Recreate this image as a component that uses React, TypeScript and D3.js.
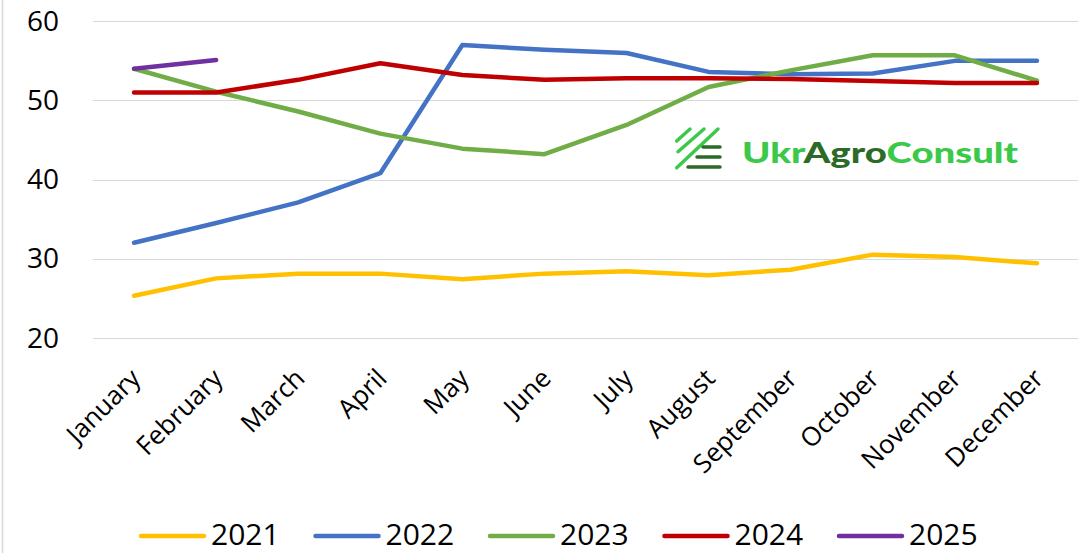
import React, { useEffect, useRef } from 'react';
import * as d3 from 'd3';

const months = [
  'January', 'February', 'March', 'April', 'May', 'June',
  'July', 'August', 'September', 'October', 'November', 'December',
];
const yTicks = [20, 30, 40, 50, 60];

const values2021 = [25.3, 27.5, 28.1, 28.1, 27.4, 28.1, 28.4, 27.9, 28.6, 30.5, 30.2, 29.4];
const values2022 = [32.0, 34.5, 37.1, 40.8, 57.0, 56.4, 56.0, 53.6, 53.3, 53.4, 55.0, 55.0];
const values2023 = [54.0, 51.1, 48.6, 45.8, 43.9, 43.2, 46.9, 51.7, 53.8, 55.7, 55.7, 52.5];
const values2024 = [51.0, 51.0, 52.6, 54.7, 53.2, 52.6, 52.8, 52.8, 52.7, 52.45, 52.2, 52.2];
const values2025 = [54.0, 55.1];

const seriesNames = ['2021', '2022', '2023', '2024', '2025'];
const seriesColors = ['#FFC000', '#4472C4', '#70AD47', '#C00000', '#7030A0'];

const App = () => {
  const svgRef = useRef<SVGSVGElement>(null);

  useEffect(() => {
    const height = 553;
    const svg = d3.select(svgRef.current);
    svg.selectAll('*').remove();

    const font = "'Open Sans', sans-serif";
    const allSeries = [values2021, values2022, values2023, values2024, values2025];

    // scales
    const x = d3.scaleBand().domain(months).range([93, 1078]);
    const cx = (m: string) => (x(m) as number) + x.bandwidth() / 2;
    const y = d3.scaleLinear().domain([20, 60]).range([337.7, 21.3]);

    // left frame line
    svg.append('line')
      .attr('x1', 2.5).attr('x2', 2.5).attr('y1', 0).attr('y2', height)
      .attr('stroke', '#d9d9d9').attr('stroke-width', 1.5);

    // gridlines
    svg.append('g')
      .selectAll('line')
      .data(yTicks)
      .join('line')
      .attr('x1', 93).attr('x2', 1078)
      .attr('y1', (d) => Math.round(y(d)) + 0.5)
      .attr('y2', (d) => Math.round(y(d)) + 0.5)
      .attr('stroke', '#d9d9d9')
      .attr('stroke-width', 1);

    // y tick labels
    svg.append('g')
      .selectAll('text')
      .data(yTicks)
      .join('text')
      .attr('x', 59)
      .attr('y', (d) => y(d))
      .attr('dy', '0.35em')
      .attr('text-anchor', 'end')
      .style('font-family', font)
      .style('font-size', '28px')
      .attr('fill', '#000')
      .text((d) => d);

    // x labels rotated
    svg.append('g')
      .selectAll('text')
      .data(months)
      .join('text')
      .attr('transform', (d) => `translate(${cx(d) + 8},${380}) rotate(-45)`)
      .attr('text-anchor', 'end')
      .style('font-family', font)
      .style('font-size', '26px')
      .attr('fill', '#000')
      .text((d) => d);

    // logo
    const logo = svg.append('g');
    const diag = [
      [676.7, 141, 690, 129],
      [678, 151.7, 704, 129],
      [676.7, 167.7, 718, 129],
    ];
    logo.selectAll('line.diag')
      .data(diag)
      .join('line')
      .attr('class', 'diag')
      .attr('x1', (d) => d[0]).attr('y1', (d) => d[1])
      .attr('x2', (d) => d[2]).attr('y2', (d) => d[3])
      .attr('stroke', '#3CC94A').attr('stroke-width', 3.5)
      .attr('stroke-linecap', 'round');
    const bars = [
      [703, 147],
      [697, 157],
      [688, 167],
    ];
    logo.selectAll('line.bar')
      .data(bars)
      .join('line')
      .attr('class', 'bar')
      .attr('x1', (d) => d[0]).attr('y1', (d) => d[1])
      .attr('x2', 720).attr('y2', (d) => d[1])
      .attr('stroke', '#2B6B27').attr('stroke-width', 3.5)
      .attr('stroke-linecap', 'round');
    const logoText = logo.append('text')
      .attr('x', 742).attr('y', 163)
      .attr('textLength', 276)
      .attr('lengthAdjust', 'spacingAndGlyphs')
      .style('font-family', "Lato, sans-serif")
      .style('font-weight', 900)
      .style('font-size', '29px');
    logoText.append('tspan').attr('fill', '#3CC94A').text('Ukr');
    logoText.append('tspan').attr('fill', '#2B6B27').text('Agro');
    logoText.append('tspan').attr('fill', '#3CC94A').text('Consult');

    // lines
    const line = d3.line<number>()
      .x((_, i) => cx(months[i]))
      .y((d) => y(d));

    svg.append('g')
      .selectAll('path')
      .data(allSeries)
      .join('path')
      .attr('d', (d) => line(d))
      .attr('fill', 'none')
      .attr('stroke', (_, i) => seriesColors[i])
      .attr('stroke-width', 4.5)
      .attr('stroke-linejoin', 'round')
      .attr('stroke-linecap', 'round');

    // legend
    const legend = svg.append('g')
      .selectAll('g')
      .data(seriesNames)
      .join('g')
      .attr('transform', (_, i) => `translate(${141 + i * 174.5},0)`);
    legend.append('line')
      .attr('x1', 0).attr('x2', 63).attr('y1', 536).attr('y2', 536)
      .attr('stroke', (_, i) => seriesColors[i])
      .attr('stroke-width', 4.5)
      .attr('stroke-linecap', 'round');
    legend.append('text')
      .attr('x', 70).attr('y', 545)
      .style('font-family', font)
      .style('font-size', '30px')
      .attr('fill', '#000')
      .text((d) => d);
  }, []);

  return (
    <svg
      ref={svgRef}
      width={1086}
      height={553}
      style={{ position: 'absolute', left: 0, top: 0, background: '#fff' }}
    />
  );
};

export default App;
